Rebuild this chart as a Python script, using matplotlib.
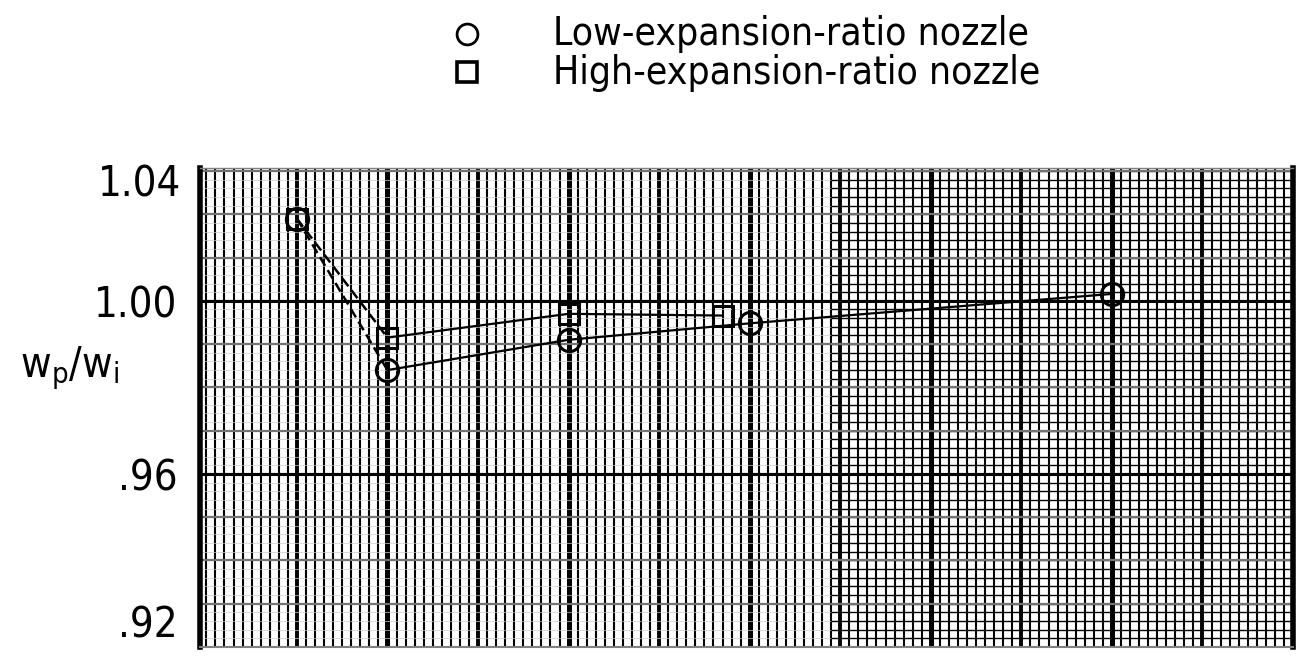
import numpy as np
import matplotlib
matplotlib.use("Agg")
import matplotlib.pyplot as plt
from matplotlib.lines import Line2D

# narrow lettering like the original drawing
plt.rcParams["font.family"] = ["DejaVu Sans"]
plt.rcParams["font.stretch"] = "condensed"

# data
low_x = [1, 2, 4, 6, 10]
low_y = [1.019, 0.984, 0.991, 0.9948, 1.0016]
high_x = [1, 2, 4, 5.7]
high_y = [1.019, 0.9915, 0.997, 0.9966]

ytick_vals = [0.92, 0.96, 1.00]
ytick_labels = [".92", ".96", "1.00"]
top_label = "1.04"
legend_labels = ["Low-expansion-ratio nozzle", "High-expansion-ratio nozzle"]

x_lo, x_hi = -0.07, 12.0
y_lo, y_hi = 0.92, 1.0307

fig = plt.figure(figsize=(13.13, 6.62), dpi=100)
ax = fig.add_axes([200 / 1313, 15 / 662, 1093 / 1313, 479 / 662])
ax.set_xlim(x_lo, x_hi)
ax.set_ylim(y_lo, y_hi)

# graph paper
fine_x = np.arange(0, 12.001, 0.1)
ax.vlines(fine_x, y_lo, y_hi, color="black", lw=1.5, zorder=1)
ax.vlines(np.arange(1, 12, 1), y_lo, y_hi, color="black", lw=2.8, zorder=1)
ax.vlines(np.arange(2, 12, 2), y_lo, y_hi, color="black", lw=3.6, zorder=1)

fine_y = np.arange(0.92, 1.031, 0.002)
ax.hlines(fine_y, x_lo, 6.9, color="0.8", lw=0.5, zorder=1)
ax.hlines(fine_y, 6.9, x_hi, color="black", lw=1.0, zorder=1)
ax.hlines(np.arange(0.93, 1.031, 0.01), x_lo, x_hi, color="0.45", lw=1.6, zorder=1)
ax.hlines([0.96, 1.00], x_lo, x_hi, color="black", lw=2.2, zorder=1)

# data lines: first segment dashed, rest solid
for xs, ys in [(low_x, low_y), (high_x, high_y)]:
    ax.plot(xs[:2], ys[:2], color="black", lw=1.8, ls=(0, (4, 2)), zorder=3)
    ax.plot(xs[1:], ys[1:], color="black", lw=1.6, zorder=3)

ax.plot(low_x, low_y, ls="none", marker="o", ms=16, mfc="none", mec="black", mew=2.2, zorder=4)
ax.plot(high_x, high_y, ls="none", marker="s", ms=15, mfc="none", mec="black", mew=2.2, zorder=4)

# axes frame
for side in ["left", "right"]:
    ax.spines[side].set_linewidth(4)
ax.spines["top"].set_linewidth(1)
ax.spines["top"].set_color("0.5")
ax.spines["bottom"].set_linewidth(1.5)
ax.spines["bottom"].set_color("0.5")

ax.set_xticks([])
ax.set_yticks(ytick_vals)
ax.set_yticklabels(ytick_labels, fontsize=30)
ax.get_yticklabels()[0].set_va("bottom")
ax.tick_params(axis="y", length=0, pad=16)
ax.text(-0.017, 1.0268, top_label, transform=ax.get_yaxis_transform(),
        ha="right", va="center", fontsize=30)

fig.text(70 / 1313, 1 - 368 / 662, r"$\mathregular{w_p/w_i}$", fontsize=30,
         ha="center", va="center")

# legend
fig.add_artist(Line2D([467 / 1313], [1 - 34 / 662], transform=fig.transFigure,
                      marker="o", ms=15, mfc="none", mec="black", mew=2))
fig.add_artist(Line2D([467 / 1313], [1 - 72 / 662], transform=fig.transFigure,
                      marker="s", ms=14, mfc="none", mec="black", mew=2.6))
fig.text(553 / 1313, 1 - 34 / 662, legend_labels[0], fontsize=28, va="center")
fig.text(553 / 1313, 1 - 73 / 662, legend_labels[1], fontsize=28, va="center")

fig.savefig("out.png", dpi=100)
